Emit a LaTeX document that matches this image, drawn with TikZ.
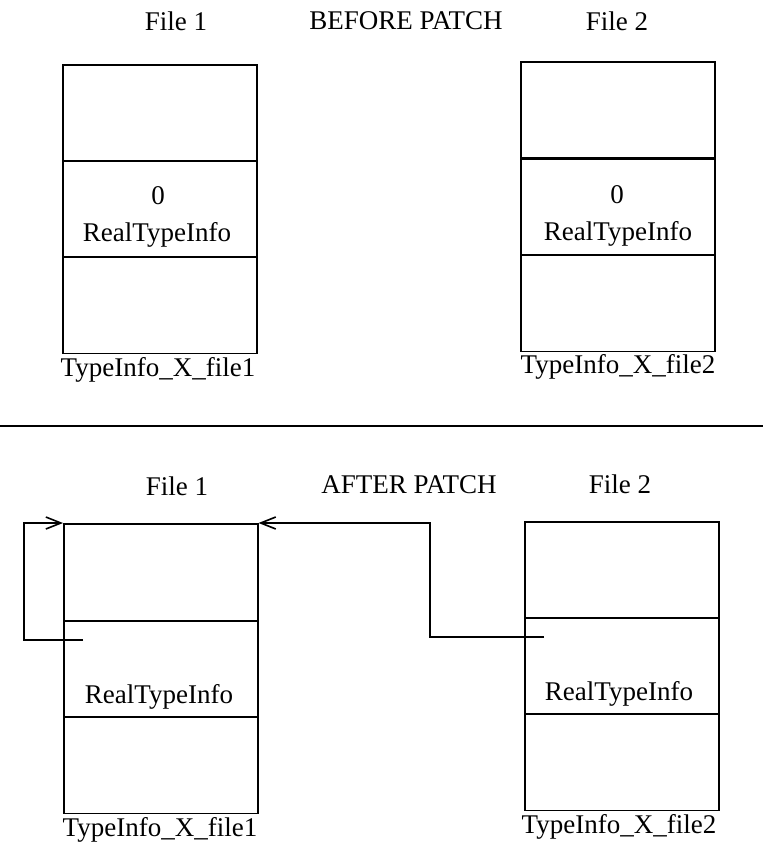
\documentclass[tikz,border=0pt]{standalone}
\usepackage{fontspec}
\setmainfont{Liberation Serif}
\usetikzlibrary{arrows.meta}
\begin{document}
\begin{tikzpicture}[x=1pt,y=-1pt,
  txt/.style={inner sep=0pt,font=\fontsize{27}{30}\selectfont},
  cell/.style={draw,line width=1.6pt,minimum width=194pt,minimum height=96.5pt,inner sep=0pt,anchor=north west},
  link/.style={line width=1.6pt,-{Straight Barb[length=15pt,width=12pt,line width=1.6pt]}}]
\useasboundingbox (0,0) rectangle (763,842);
% BEFORE
\node[txt] (f1a) at (176,21) {File 1};
\node[txt] (bp) at (406,21) {BEFORE PATCH};
\node[txt] (f2a) at (617,21) {File 2};
\node[cell] (a1) at (62,64) {};
\node[cell] (a2) at (62,160) {};
\node[cell] (a3) at (62,256) {};
\node[txt] (z1) at (158,196) {0};
\node[txt] (r1) at (157,235) {RealTypeInfo};
\node[txt] (c1) at (158,370) {TypeInfo\_X\_file1};
\node[cell] (b1) at (520,61) {};
\node[cell] (b2) at (520,158) {};
\node[cell] (b3) at (520,254) {};
\node[txt] (z2) at (617,195) {0};
\node[txt] (r2) at (618,234) {RealTypeInfo};
\node[txt] (c2) at (618,367) {TypeInfo\_X\_file2};
% separator
\coordinate (sl) at (0,426);
\coordinate (sr) at (763,426);
\draw[line width=1.6pt] (sl) -- (sr);
% AFTER
\node[txt] (f1b) at (177,486) {File 1};
\node[txt] (ap) at (409,485) {AFTER PATCH};
\node[txt] (f2b) at (620,484) {File 2};
\node[cell] (p1) at (63,523) {};
\node[cell] (p2) at (63,620) {};
\node[cell] (p3) at (63,716) {};
\node[txt] (r3) at (159,697) {RealTypeInfo};
\node[txt] (c3) at (160,830) {TypeInfo\_X\_file1};
\node[cell] (q1) at (524,521) {};
\node[cell] (q2) at (524,617) {};
\node[cell] (q3) at (524,713) {};
\node[txt] (r4) at (619,694) {RealTypeInfo};
\node[txt] (c4) at (619,827) {TypeInfo\_X\_file2};
% pointers
\coordinate (s1) at (83,640);
\coordinate (s2) at (544,637);
\draw[link] (s1) -- (24,640) -- (24,523) -- (p1.north west);
\draw[link] (s2) -- (430,637) -- (430,523) -- (p1.north east);
\end{tikzpicture}
\end{document}
